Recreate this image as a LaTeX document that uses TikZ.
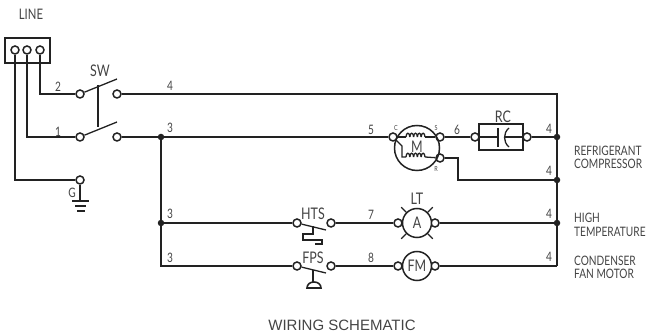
\documentclass[tikz,border=0pt]{standalone}
\usepackage{fontspec}
\setmainfont[FakeStretch=0.78]{Lato}
\newfontfamily\titlefont{Liberation Sans}
\usetikzlibrary{arrows}
\definecolor{wire}{HTML}{222222}
\definecolor{ink}{HTML}{444444}
\tikzset{
  term/.style={circle,draw=wire,line width=1.5pt,fill=white,inner sep=0pt,minimum size=8pt},
  junct/.style={circle,fill=wire,inner sep=0pt,minimum size=6.5pt},
  lbl/.style={text=ink,font=\fontsize{13}{14}\selectfont,inner sep=0pt},
  biglbl/.style={text=ink,font=\fontsize{16}{16}\selectfont,inner sep=0pt},
  note/.style={text=ink,font=\fontsize{13}{13}\selectfont,inner sep=0pt,anchor=west},
  tiny/.style={text=ink,font=\fontsize{7}{7}\selectfont,inner sep=0pt},
  wired/.style={draw=wire,line width=1.6pt},
  thin/.style={draw=wire,line width=1.3pt},
  bigcirc/.style={circle,draw=wire,fill=white,line width=1.5pt,inner sep=0pt}
}
\begin{document}
\begin{tikzpicture}[x=1pt,y=-1pt]
  \useasboundingbox (0,0) rectangle (648,336);
  % corner points of the wiring
  \coordinate (c2) at (40,94);
  \coordinate (c1) at (27,137);
  \coordinate (cg) at (15,180);
  \coordinate (b4a) at (557,94);
  \coordinate (b4d) at (557,266);
  \coordinate (r1) at (458,158);
  \coordinate (r2) at (458,180);
  \coordinate (t3) at (161,266);

  \draw [thin] (5,38) rectangle (50,63);
  \node [term] (l1) at (15,50) {};
  \node [term] (l2) at (27,50) {};
  \node [term] (l3) at (40,50) {};

  \node [term] (sw1) at (80,94) {};
  \node [term] (sw2) at (117,94) {};
  \node [term] (sw3) at (80,137) {};
  \node [term] (sw4) at (117,137) {};
  \node [term] (g) at (80,180) {};
  \node [term] (mc) at (393,137) {};
  \node [term] (ms) at (440,137) {};
  \node [term] (mr) at (440,158) {};
  \node [term] (rc1) at (475,137) {};
  \node [term] (rc2) at (527,137) {};
  \node [term] (hts1) at (297,223) {};
  \node [term] (hts2) at (331,223) {};
  \node [term] (fps1) at (297,266) {};
  \node [term] (fps2) at (331,266) {};
  \node [term] (lt1) at (398,223) {};
  \node [term] (lt2) at (435,223) {};
  \node [term] (fm1) at (398,266) {};
  \node [term] (fm2) at (435,266) {};

  \node [junct] (j3) at (161,137) {};
  \node [junct] (j3b) at (161,223) {};
  \node [junct] (b1) at (557,137) {};
  \node [junct] (b2) at (557,180) {};
  \node [junct] (b3) at (557,223) {};

  \draw [wired] (l3) -- (c2) -- (sw1);
  \draw [wired] (l2) -- (c1) -- (sw3);
  \draw [wired] (l1) -- (cg) -- (g);
  \draw [wired] (sw2) -- (b4a) -- (b4d);
  \draw [wired] (sw4) -- (j3) -- (mc);
  \draw [wired] (j3) -- (t3) -- (fps1);
  \draw [wired] (j3b) -- (hts1);
  \draw [wired] (ms) -- (rc1);
  \draw [wired] (rc2) -- (b1);
  \draw [wired] (mr) -- (r1) -- (r2) -- (b2);
  \draw [wired] (hts2) -- (lt1);
  \draw [wired] (lt2) -- (b3);
  \draw [wired] (fps2) -- (fm1);
  \draw [wired] (fm2) -- (b4d);

  % switch blades
  \draw [thin] (sw1) -- (117,79);
  \draw [thin] (sw3) -- (117,122);
  \draw [thin] (98,85) -- (98,127);

  % ground
  \draw [wired] (g) -- (80,201);
  \draw [wired] (72,201) -- (89,201);
  \draw [wired] (75,206) -- (86,206);
  \draw [wired] (77,211) -- (85,211);

  % motor
  \node [bigcirc,fill=none,minimum size=45pt] (m) at (417,148) {};
  \draw [thin] (mc) -- (406,137);
  \draw [thin] (425,137) -- (ms);
  \draw [thin] (mc) -- (402,146) -- (402,157) -- (406,157);
  \draw [thin] (425,157) -- (mr);
  \foreach \x in {406,409.8,413.6,417.4,421.2} {
    \draw [thin] (\x,137) .. controls +(0,-5) and +(0,-5) .. +(3.8,0);
    \draw [thin] (\x,157) .. controls +(0,-5) and +(0,-5) .. +(3.8,0);
  }

  % run capacitor
  \draw [thin] (479,124) rectangle (523,150);
  \draw [thin] (rc1) -- (498,137);
  \draw [thin] (498,128) -- (498,147);
  \draw [thin] (509,128) .. controls (503,133) and (503,142) .. (509,147);
  \draw [thin] (504,137) -- (rc2);

  % high temperature switch
  \draw [thin] (hts1) -- (326,230);
  \draw [thin] (313,226) -- (313,234) -- (303,234) -- (303,240) -- (322,240) -- (322,244) -- (315,244);

  % fan pressure switch
  \draw [thin] (fps1) -- (326,273);
  \draw [thin] (313,270) -- (313,282);
  \draw [wired] (307,288) .. controls (307,280) and (321,280) .. (321,288) -- cycle;

  % lamp and fan motor
  \node [bigcirc,minimum size=29pt] (lt) at (417,223) {};
  \node [bigcirc,minimum size=29pt] (fm) at (417,266) {};
  \draw [thin] (lt.45) -- +(5,-5);
  \draw [thin] (lt.135) -- +(-5,-5);
  \draw [thin] (lt.-45) -- +(5,5);
  \draw [thin] (lt.-135) -- +(-5,5);

  % labels
  \node [lbl,font=\fontsize{14.5}{15}\selectfont] (line) at (31,14) {LINE};
  \node [biglbl] (sw) at (100,71) {SW};
  \node [lbl] (n2) at (58,87) {2};
  \node [lbl] (n1) at (58,132) {1};
  \node [lbl] (ng) at (72,193) {G};
  \node [lbl] (w4) at (170,86) {4};
  \node [lbl] (w3) at (170,128) {3};
  \node [lbl] (w3b) at (170,214) {3};
  \node [lbl] (w3c) at (170,258) {3};
  \node [lbl] (w5) at (371,130) {5};
  \node [lbl] (w6) at (457,130) {6};
  \node [lbl] (w7) at (371,215) {7};
  \node [lbl] (w8) at (371,258) {8};
  \node [lbl] (w4a) at (549,129) {4};
  \node [lbl] (w4b) at (549,171) {4};
  \node [lbl] (w4c) at (549,214) {4};
  \node [lbl] (w4d) at (549,257) {4};
  \node [biglbl] (rc) at (503,117) {RC};
  \node [biglbl] (mm) at (417,147) {M};
  \node [biglbl] (hts) at (313,214) {HTS};
  \node [biglbl] (fps) at (313,258) {FPS};
  \node [biglbl] (lbllt) at (417,199) {LT};
  \node [biglbl] (lbla) at (417,223) {A};
  \node [biglbl] (lblfm) at (417,266) {FM};
  \node [tiny] (tc) at (396,128) {C};
  \node [tiny] (ts) at (436,128) {S};
  \node [tiny] (tr) at (436,169) {R};
  \node [note] (a1) at (574,151) {REFRIGERANT};
  \node [note] (a2) at (574,164) {COMPRESSOR};
  \node [note] (b1t) at (574,218) {HIGH};
  \node [note] (b2t) at (574,232) {TEMPERATURE};
  \node [note] (c1t) at (574,261) {CONDENSER};
  \node [note] (c2t) at (574,274) {FAN MOTOR};
  \node [text=ink,inner sep=0pt,font=\titlefont\fontsize{15}{16}\selectfont] (title) at (342,325) {WIRING SCHEMATIC};
\end{tikzpicture}
\end{document}
